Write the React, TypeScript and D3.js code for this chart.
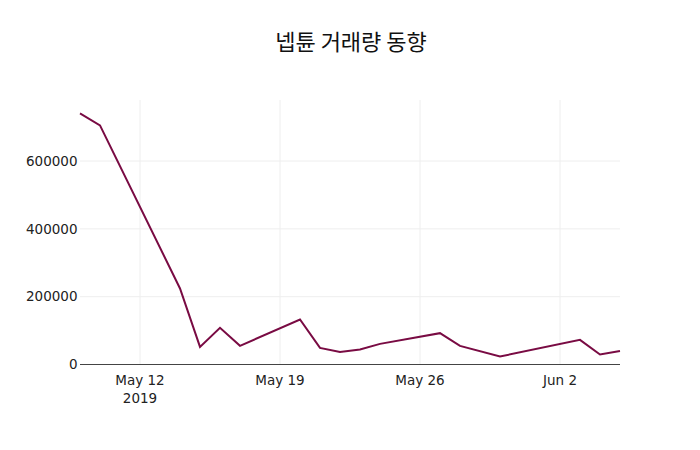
import React from 'react';
import * as d3 from 'd3';

const dates = [
  '2019-05-09', '2019-05-10', '2019-05-14', '2019-05-15', '2019-05-16', '2019-05-17',
  '2019-05-20', '2019-05-21', '2019-05-22', '2019-05-23', '2019-05-24', '2019-05-27',
  '2019-05-28', '2019-05-30', '2019-06-03', '2019-06-04', '2019-06-05',
];
const volumes = [
  740700, 705300, 224300, 52000, 108000, 55000,
  132800, 49000, 37200, 44300, 60800, 92400,
  55000, 23600, 72600, 29500, 40100,
];
const xTicks = ['2019-05-12', '2019-05-19', '2019-05-26', '2019-06-02'];
const yTicks = [0, 200000, 400000, 600000];
const title = '넵튠 거래량 동향';

const width = 700;
const height = 450;
const margin = { top: 100, right: 80, bottom: 85.5, left: 80 };

const parse = d3.utcParse('%Y-%m-%d');
const fmtTick = d3.utcFormat('%b %-d');

const App: React.FC = () => {
  const x = d3.scaleUtc()
    .domain([parse(dates[0])!, parse(dates[dates.length - 1])!])
    .range([margin.left, width - margin.right]);
  const y = d3.scaleLinear()
    .domain([0, 780000])
    .range([height - margin.bottom, margin.top]);

  const points = dates.map((d, i) => ({ date: parse(d)!, value: volumes[i] }));
  const line = d3.line<{ date: Date; value: number }>()
    .x(d => x(d.date))
    .y(d => y(d.value));

  const font = '"DejaVu Sans", Verdana, sans-serif';
  const textColor = '#222';

  return (
    <svg width={width} height={height} style={{ display: 'block', margin: -8, background: '#fff' }}>
      <text x={width / 2 + 1} y={50} textAnchor="middle" fontSize={22}
        fontFamily={'"Noto Sans CJK KR", sans-serif'} fill="#111">{title}</text>

      {xTicks.map(t => (
        <line key={t} x1={x(parse(t)!)} x2={x(parse(t)!)} y1={margin.top} y2={height - margin.bottom}
          stroke="#eee" strokeWidth={1} />
      ))}
      {yTicks.slice(1).map(t => (
        <line key={t} x1={margin.left} x2={width - margin.right} y1={y(t)} y2={y(t)}
          stroke="#eee" strokeWidth={1} />
      ))}

      <path d={line(points) ?? ''} fill="none" stroke="#790b43" strokeWidth={2} />

      <line x1={margin.left} x2={width - margin.right} y1={y(0)} y2={y(0)} stroke="#444" strokeWidth={1} />

      {yTicks.map(t => (
        <text key={t} x={margin.left - 2.5} y={y(t)} dy="0.35em" textAnchor="end"
          fontSize={13.5} fontFamily={font} fill={textColor}>{t}</text>
      ))}
      {xTicks.map((t, i) => (
        <text key={t} x={x(parse(t)!)} y={height - margin.bottom + 20} textAnchor="middle"
          fontSize={13.5} fontFamily={font} fill={textColor}>
          <tspan x={x(parse(t)!)}>{fmtTick(parse(t)!)}</tspan>
          {i === 0 && <tspan x={x(parse(t)!)} dy="1.35em">2019</tspan>}
        </text>
      ))}
    </svg>
  );
};

export default App;
